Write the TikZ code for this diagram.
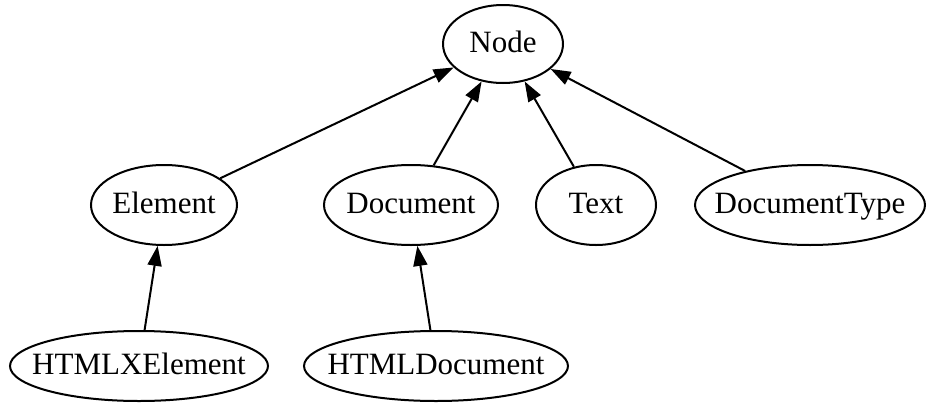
\documentclass[tikz,border=0pt]{standalone}
\usepackage{fontspec}
\setmainfont{Liberation Serif}
\usetikzlibrary{shapes.geometric,arrows.meta}
\newcommand{\lbl}[1]{\makebox[0pt]{#1}}
\begin{document}
\begin{tikzpicture}[x=1pt,y=-1pt,
  cls/.style={draw,ellipse,line width=2pt,inner sep=0pt,text height=20pt,text depth=4pt,font=\fontsize{31}{31}\selectfont},
  inh/.style={line width=2pt,-{Triangle[length=20pt,width=14pt]}}]
\useasboundingbox (0,0) rectangle (927,402);
\node[cls,minimum width=120pt,minimum height=78pt] (node) at (503,44) {\lbl{Node}};
\node[cls,minimum width=146pt,minimum height=80pt] (element) at (164,205) {\lbl{Element}};
\node[cls,minimum width=174pt,minimum height=80pt] (document) at (411,205) {\lbl{Document}};
\node[cls,minimum width=120pt,minimum height=80pt] (text) at (596,205) {\lbl{Text}};
\node[cls,minimum width=230pt,minimum height=80pt] (doctype) at (810,205) {\lbl{DocumentType}};
\node[cls,minimum width=258pt,minimum height=70pt] (htmlx) at (139,366) {\lbl{HTMLXElement}};
\node[cls,minimum width=264pt,minimum height=70pt] (htmldoc) at (436,366) {\lbl{HTMLDocument}};
\draw[inh] (element) -- (node);
\draw[inh] (document) -- (node);
\draw[inh] (text) -- (node);
\draw[inh] (doctype) -- (node);
\draw[inh] (htmlx) -- (element);
\draw[inh] (htmldoc) -- (document);
\end{tikzpicture}
\end{document}
